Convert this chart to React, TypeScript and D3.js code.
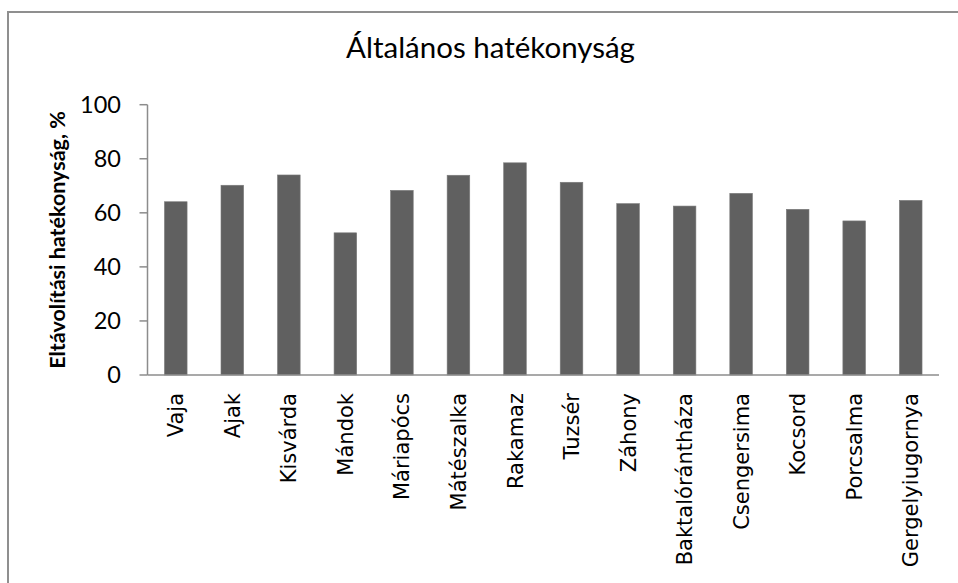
import React from "react";
import * as d3 from "d3";

const categories = [
  "Vaja", "Ajak", "Kisvárda", "Mándok", "Máriapócs", "Mátészalka", "Rakamaz",
  "Tuzsér", "Záhony", "Baktalórántháza", "Csengersima", "Kocsord", "Porcsalma", "Gergelyiugornya",
];
const values = [64.1, 70.2, 74.0, 52.6, 68.3, 73.9, 78.5, 71.3, 63.4, 62.5, 67.2, 61.3, 57.0, 64.6];
const yTicks = [0, 20, 40, 60, 80, 100];
const title = "Általános hatékonyság";
const yTitle = "Eltávolítási hatékonyság, %";

const W = 958;
const H = 583;
const left = 147.5;
const right = 939;
const top = 104.7;
const bottom = 375;

export default function App() {
  const x = d3.scaleBand<string>().domain(categories).range([left, right]).paddingInner(0.6).paddingOuter(0.3);
  const y = d3.scaleLinear().domain([0, 100]).range([bottom, top]);
  const axisColor = "#8c8c8c";
  const calibriLike = "Lato, 'Open Sans', sans-serif";
  return (
    <svg width={W} height={H} style={{ position: "fixed", left: 0, top: 0, background: "#fff" }}>
      <rect x={0} y={0} width={W} height={H} fill="#fff" />
      <rect x={8} y={12} width={W + 20} height={H + 20} fill="none" stroke="#8f8f8f" strokeWidth={2} />
      <text x={490.5} y={58} textAnchor="middle" fontFamily={calibriLike} fontSize={29.5} fill="#000">
        {title}
      </text>
      {categories.map((c, i) => (
        <rect key={c} x={x(c)} y={y(values[i])} width={x.bandwidth()} height={y(0) - y(values[i])} fill="#606060" stroke="#7a7a7a" strokeWidth={0.6} />
      ))}
      <line x1={left} x2={left} y1={top} y2={bottom} stroke={axisColor} strokeWidth={1.5} />
      <line x1={left} x2={right} y1={bottom} y2={bottom} stroke={axisColor} strokeWidth={1.5} />
      {yTicks.map((t) => (
        <g key={t}>
          <line x1={left - 8} x2={left} y1={y(t)} y2={y(t)} stroke={axisColor} strokeWidth={1.5} />
          <text x={121} y={y(t)} dy="0.36em" textAnchor="end" fontFamily={calibriLike} fontSize={23.5} fill="#000">
            {t}
          </text>
        </g>
      ))}
      {categories.map((c) => (
        <text
          key={c}
          transform={`translate(${(x(c) as number) + x.bandwidth() / 2},393) rotate(-90)`}
          dy="0.36em"
          textAnchor="end"
          fontFamily="'DejaVu Sans', sans-serif"
          fontSize={21}
          fill="#000"
        >
          {c}
        </text>
      ))}
      <text
        transform={`translate(65,240) rotate(-90)`}
        textAnchor="middle"
        fontFamily={calibriLike}
        fontWeight="bold"
        fontSize={21.5}
        fill="#000"
      >
        {yTitle}
      </text>
    </svg>
  );
}
